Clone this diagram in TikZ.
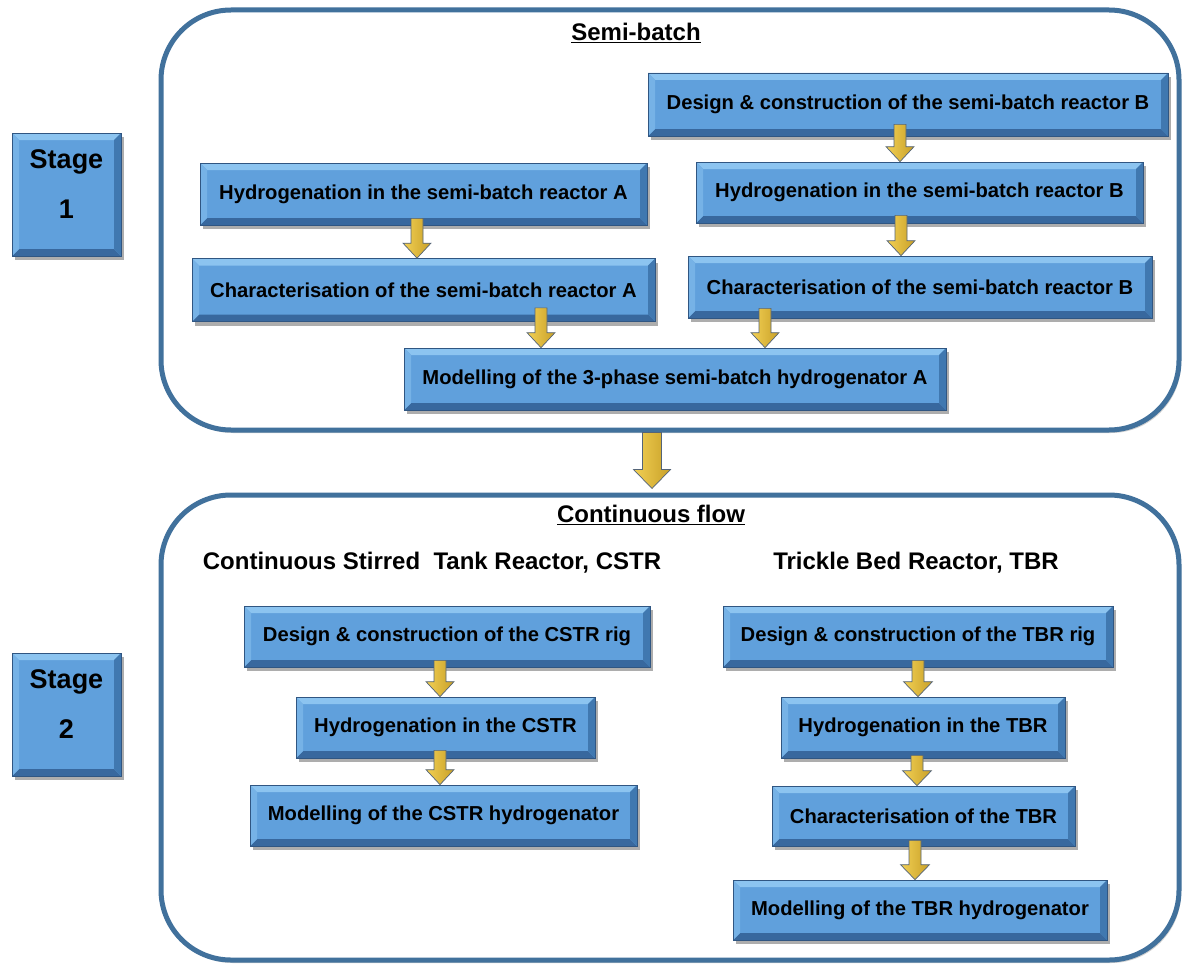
\documentclass[tikz,border=0pt]{standalone}
\usepackage{fontspec}
\setmainfont{Liberation Sans}
\usetikzlibrary{shadows,calc}
\definecolor{boxmain}{RGB}{96,160,220}
\definecolor{bevtop}{RGB}{140,196,240}
\definecolor{bevleft}{RGB}{118,178,230}
\definecolor{bevright}{RGB}{64,120,176}
\definecolor{bevbot}{RGB}{56,104,158}
\definecolor{boxline}{RGB}{48,86,130}
\definecolor{panelline}{RGB}{65,113,156}
\definecolor{ylight}{RGB}{255,240,150}
\definecolor{ymid}{RGB}{242,208,84}
\definecolor{ydark}{RGB}{200,160,40}
\definecolor{arrline}{RGB}{84,100,120}
\newcommand\bevelpic{%
 \fill[bevtop] (path picture bounding box.north west) -- (path picture bounding box.north east) -- ([shift={(-7pt,-7pt)}]path picture bounding box.north east) -- ([shift={(7pt,-7pt)}]path picture bounding box.north west) -- cycle;
 \fill[bevbot] (path picture bounding box.south west) -- (path picture bounding box.south east) -- ([shift={(-7pt,7pt)}]path picture bounding box.south east) -- ([shift={(7pt,7pt)}]path picture bounding box.south west) -- cycle;
 \fill[bevleft] (path picture bounding box.north west) -- ([shift={(7pt,-7pt)}]path picture bounding box.north west) -- ([shift={(7pt,7pt)}]path picture bounding box.south west) -- (path picture bounding box.south west) -- cycle;
 \fill[bevright] (path picture bounding box.north east) -- ([shift={(-7pt,-7pt)}]path picture bounding box.north east) -- ([shift={(-7pt,7pt)}]path picture bounding box.south east) -- (path picture bounding box.south east) -- cycle;
}
% #1 x, #2 from node, #3 to node, #4 start offset into upper node, #5 half shaft, #6 half head, #7 head length, #8 tip offset above lower node
\newcommand\flowarrow[8]{%
 \path[flowarr] let \p1=(#2.south), \p2=(#3.north) in
  ({#1pt-#5pt},{\y1+(#4pt)}) -- ({#1pt+#5pt},{\y1+(#4pt)}) -- ({#1pt+#5pt},{\y2+(#8pt)+(#7pt)})
  -- ({#1pt+#6pt},{\y2+(#8pt)+(#7pt)}) -- ({#1pt},{\y2+(#8pt)}) -- ({#1pt-#6pt},{\y2+(#8pt)+(#7pt)})
  -- ({#1pt-#5pt},{\y2+(#8pt)+(#7pt)}) -- cycle;
}
\tikzset{
 box/.style={rectangle, fill=boxmain, draw=boxline, line width=0.7pt, inner sep=0pt,
   font=\fontsize{20.2}{24}\selectfont\bfseries, text=black,
   drop shadow={shadow xshift=3pt,shadow yshift=-4pt,opacity=0.4,fill=black!80},
   path picture={\bevelpic}},
 stagetext/.style={font=\fontsize{27}{32}\selectfont\bfseries, anchor=base, inner sep=0pt},
 panel/.style={rectangle, draw=panelline, line width=5pt, rounded corners=70pt, fill=white, inner sep=0pt,
   drop shadow={shadow xshift=2pt,shadow yshift=-3pt,opacity=0.3,fill=black!60}},
 title/.style={font=\fontsize{24}{28}\selectfont\bfseries, inner sep=0pt},
 flowarr/.style={draw=arrline, line width=0.7pt, left color=ymid, middle color=ylight, right color=ydark},
}
\begin{document}
\begin{tikzpicture}[x=1pt,y=-1pt]
\useasboundingbox[fill=white] (0,0) rectangle (1182,963);
% panels
\node[panel, minimum width=1018pt, minimum height=420pt] (p1) at (670,220) {};
\node[panel, minimum width=1018pt, minimum height=465pt] (p2) at (670,727.5) {};
% stages
\node[box, minimum width=109pt, minimum height=123pt] (s1) at (66.5,194.5) {};
\node[stagetext] (s1a) at (66.5,168) {Stage};
\node[stagetext] (s1b) at (66.5,218) {1};
\node[box, minimum width=109pt, minimum height=123pt] (s2) at (66.5,714.5) {};
\node[stagetext] (s2a) at (66.5,688) {Stage};
\node[stagetext] (s2b) at (66.5,738) {2};
% titles
\node[title] (t1) at (636,33) {\underline{Semi-batch}};
\node[title] (t2) at (651,515) {\underline{Continuous flow}};
\node[title] (t3) at (432,563) {Continuous Stirred\ \ Tank Reactor, CSTR};
\node[title] (t4) at (916,563) {Trickle Bed Reactor, TBR};
% stage 1 boxes
\node[box, minimum width=520pt, minimum height=63pt] (designB) at (908,104.5) {Design \& construction of the semi-batch reactor B};
\node[box, minimum width=447pt, minimum height=62pt] (hydroA) at (423.5,194) {Hydrogenation in the semi-batch reactor A};
\node[box, minimum width=447pt, minimum height=61pt] (hydroB) at (919.5,192.5) {Hydrogenation in the semi-batch reactor B};
\node[box, minimum width=463pt, minimum height=63pt] (charA) at (423.5,290) {Characterisation of the semi-batch reactor A};
\node[box, minimum width=464pt, minimum height=62pt] (charB) at (920,287) {Characterisation of the semi-batch reactor B};
\node[box, minimum width=542pt, minimum height=62pt] (modelA) at (675,379) {Modelling of the 3-phase semi-batch hydrogenator A};
% stage 2 boxes
\node[box, minimum width=406pt, minimum height=61pt] (designC) at (447,636.5) {Design \& construction of the CSTR rig};
\node[box, minimum width=299pt, minimum height=61pt] (hydroC) at (445.5,727.5) {Hydrogenation in the CSTR};
\node[box, minimum width=387pt, minimum height=61pt] (modelC) at (443.5,815.5) {Modelling of the CSTR hydrogenator};
\node[box, minimum width=390pt, minimum height=61pt] (designT) at (918,636.5) {Design \& construction of the TBR rig};
\node[box, minimum width=284pt, minimum height=61pt] (hydroT) at (923,727.5) {Hydrogenation in the TBR};
\node[box, minimum width=303pt, minimum height=60pt] (charT) at (923.5,816) {Characterisation of the TBR};
\node[box, minimum width=374pt, minimum height=60pt] (modelT) at (920,910) {Modelling of the TBR hydrogenator};
% arrows
\flowarrow{900}{designB}{hydroB}{12}{6}{14}{15}{0}
\flowarrow{417}{hydroA}{charA}{7}{6}{14}{15}{0}
\flowarrow{901}{hydroB}{charB}{8}{6}{14}{15}{0}
\flowarrow{541}{charA}{modelA}{14}{6}{14}{15}{0}
\flowarrow{765}{charB}{modelA}{10}{6}{14}{15}{0}
\flowarrow{652}{p1}{p2}{0}{9.5}{18.5}{19}{4}
\flowarrow{440}{designC}{hydroC}{7}{6}{14}{15}{0}
\flowarrow{440}{hydroC}{modelC}{8}{6}{14}{15}{0}
\flowarrow{918}{designT}{hydroT}{7}{6}{14.5}{15}{0}
\flowarrow{917}{hydroT}{charT}{3}{6}{14.5}{15}{0}
\flowarrow{915}{charT}{modelT}{6}{6}{14.5}{15}{0}
\end{tikzpicture}
\end{document}
